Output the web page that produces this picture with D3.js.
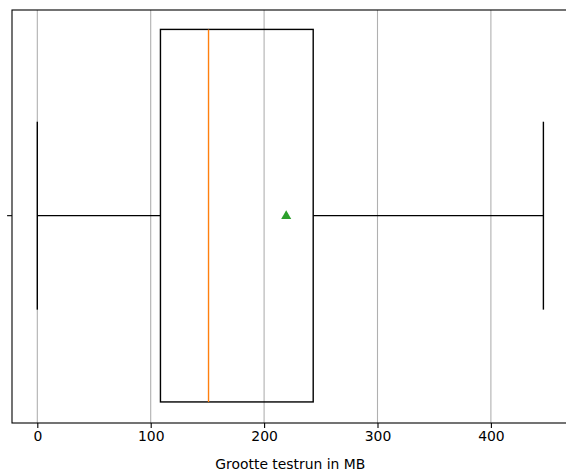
<!DOCTYPE html>
<html>
<head>
<meta charset="utf-8">
<script src="https://cdn.jsdelivr.net/npm/d3@7"></script>
<style>
  body { margin: 0; background: #fff; }
  svg text { font-family: "DejaVu Sans", sans-serif; }
</style>
</head>
<body>
<div id="chart"></div>
<script>
// Box plot stats (MB)
const categories = [""];
const whiskerLow = [0];
const q1 = [108.6];
const median = [151.0];
const q3 = [243.3];
const whiskerHigh = [446.3];
const mean = [219.5];
const xTicks = [0, 100, 200, 300, 400];
const xLabel = "Grootte testrun in MB";

const W = 566, H = 473;
const margin = {left: 12, top: 10, bottom: 50};

// matplotlib style 5% margins on the data range
const span = whiskerHigh[0] - whiskerLow[0];
const x = d3.scaleLinear()
    .domain([whiskerLow[0] - span * 0.05, whiskerHigh[0] + span * 0.05])
    .range([margin.left, 568.7]);
const y = d3.scaleLinear().domain([0, 1]).range([margin.top, H - margin.bottom]);

const svg = d3.select("#chart").append("svg")
    .attr("width", W).attr("height", H);

const plotR = x.range()[1];
const lw = 1.4;

// grid
svg.append("g").selectAll("line")
    .data(xTicks).enter().append("line")
    .attr("x1", d => x(d)).attr("x2", d => x(d))
    .attr("y1", y(0)).attr("y2", y(1))
    .attr("stroke", "#b0b0b0").attr("stroke-width", 1.1);

// x axis
const xAxis = svg.append("g")
    .attr("transform", "translate(0," + y(1) + ")")
    .call(d3.axisBottom(x).tickValues(xTicks).tickSize(4.9).tickPadding(3.5).tickFormat(d3.format("d")));
xAxis.select(".domain").remove();
xAxis.selectAll("line").attr("stroke", "#000").attr("stroke-width", 1.1);
xAxis.selectAll("text").attr("font-size", "13.9px").attr("fill", "#000");

// y tick (no label)
const boxCenter = 0.498, boxW = 0.902, capW = 0.455;
svg.append("line")
    .attr("x1", margin.left - 4.9).attr("x2", margin.left)
    .attr("y1", y(boxCenter)).attr("y2", y(boxCenter))
    .attr("stroke", "#000").attr("stroke-width", 1.1);

// boxes
categories.forEach((c, i) => {
    const g = svg.append("g");
    const cy = y(boxCenter);
    const hb = (y(boxW) - y(0)) / 2, hc = (y(capW) - y(0)) / 2;
    // whiskers
    g.append("line").attr("x1", x(whiskerLow[i])).attr("x2", x(q1[i]))
        .attr("y1", cy).attr("y2", cy).attr("stroke", "#000").attr("stroke-width", lw);
    g.append("line").attr("x1", x(q3[i])).attr("x2", x(whiskerHigh[i]))
        .attr("y1", cy).attr("y2", cy).attr("stroke", "#000").attr("stroke-width", lw);
    // caps
    [whiskerLow[i], whiskerHigh[i]].forEach(v => {
        g.append("line").attr("x1", x(v)).attr("x2", x(v))
            .attr("y1", cy - hc).attr("y2", cy + hc)
            .attr("stroke", "#000").attr("stroke-width", lw);
    });
    // box
    g.append("rect").attr("x", x(q1[i])).attr("y", cy - hb)
        .attr("width", x(q3[i]) - x(q1[i])).attr("height", 2 * hb)
        .attr("fill", "none").attr("stroke", "#000").attr("stroke-width", lw);
    // median
    g.append("line").attr("x1", x(median[i])).attr("x2", x(median[i]))
        .attr("y1", cy - hb).attr("y2", cy + hb)
        .attr("stroke", "#ff7f0e").attr("stroke-width", lw);
    // mean
    g.append("path")
        .attr("d", d3.symbol().type(d3.symbolTriangle).size(44)())
        .attr("transform", "translate(" + x(mean[i]) + "," + (cy + 0.5) + ")")
        .attr("fill", "#2ca02c");
});

// axes frame (right edge falls outside the window)
svg.append("rect")
    .attr("x", margin.left).attr("y", y(0))
    .attr("width", plotR - margin.left).attr("height", y(1) - y(0))
    .attr("fill", "none").attr("stroke", "#000").attr("stroke-width", 1.1);

svg.append("text")
    .attr("x", (margin.left + plotR) / 2).attr("y", 469)
    .attr("text-anchor", "middle").attr("font-size", "13.9px")
    .text(xLabel);
</script>
</body>
</html>
